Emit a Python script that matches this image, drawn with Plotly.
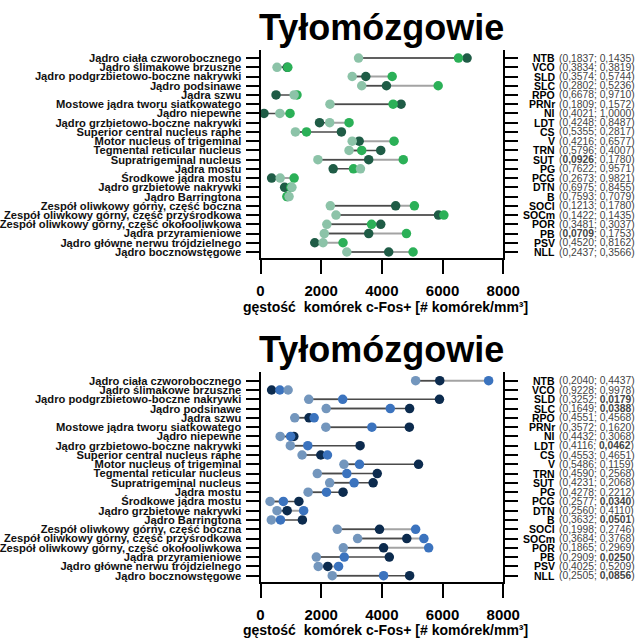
import plotly.graph_objects as go

W, H = 643, 641

regions = [
    "Jądro ciała czworobocznego",
    "Jądro ślimakowe brzuszne",
    "Jądro podgrzbietowo-boczne nakrywki",
    "Jądro podsinawe",
    "Jądra szwu",
    "Mostowe jądra tworu siatkowatego",
    "Jądro niepewne",
    "Jądro grzbietowo-boczne nakrywki",
    "Superior central nucleus raphe",
    "Motor nucleus of trigeminal",
    "Tegmental reticular nucleus",
    "Supratrigeminal nucleus",
    "Jądra mostu",
    "Środkowe jądra mostu",
    "Jądro grzbietowe nakrywki",
    "Jądro Barringtona",
    "Zespół oliwkowy górny, część boczna",
    "Zespół oliwkowy górny, część przyśrodkowa",
    "Zespół oliwkowy górny, część okołooliwkowa",
    "Jądra przyramieniowe",
    "Jądro główne nerwu trójdzielnego",
    "Jądro bocznowstęgowe",
]
abbrevs = ["NTB", "VCO", "SLD", "SLC", "RPO", "PRNr", "NI", "LDT", "CS", "V", "TRN",
           "SUT", "PG", "PCG", "DTN", "B", "SOCl", "SOCm", "POR", "PB", "PSV", "NLL"]

# top panel (green)
top_light = [3231, 544, 3022, 3336, 1108, 2290, 638, 2280, 1150, 3022, 2918,
             1892, 3294, 648, 1035, 941, 2301, 2489, 2186, 2102, 2061, 2845]
top_dark = [6808, 880, 3471, 4151, 512, 4632, 115, 1945, 2667, 3252, 3963,
            3566, 2395, 366, 795, 900, 4455, 5866, 3963, 3566, 1788, 4225]
top_bright = [6525, 900, 4340, 5856, 1202, 4371, 973, 2918, 1516, 4402, 3336,
              4706, 3064, 1108, 1000, 868, 5072, 6044, 3660, 4810, 2720, 5029]
top_p1 = [0.1837, 0.3834, 0.3574, 0.2802, 0.6678, 0.1809, 0.4021, 0.4248, 0.5355, 0.4216, 0.5796,
          0.0926, 0.7622, 0.2673, 0.6975, 0.7593, 0.1213, 0.1422, 0.3481, 0.0709, 0.4520, 0.2437]
top_p2 = [0.1435, 0.3819, 0.5744, 0.5236, 0.9710, 0.1572, 1.0000, 0.8487, 0.2817, 0.6577, 0.4007,
          0.1780, 0.9571, 0.9821, 0.8455, 0.7079, 0.1780, 0.1435, 0.3037, 0.1753, 0.8162, 0.3566]

# bottom panel (blue)
bot_light = [5113, 910, 1590, 2165, 1129, 2154, 648, 983, 1370, 2750, 1872,
             2280, 1568, 314, 544, 356, 2531, 3200, 2729, 1840, 1903, 2364]
bot_dark = [5908, 366, 5898, 4915, 1600, 4905, 1098, 3283, 1987, 5208, 3848,
            3712, 2720, 1265, 878, 1380, 3922, 4821, 4057, 4245, 2217, 4915]
bot_bright = [7519, 638, 2709, 4277, 1767, 3671, 993, 1558, 2207, 3263, 2845,
              3085, 2175, 753, 1422, 659, 5113, 5386, 5543, 2761, 2573, 4057]
bot_p1 = [0.2040, 0.9228, 0.3252, 0.1649, 0.4551, 0.3572, 0.4432, 0.4116, 0.4553, 0.5486, 0.4590,
          0.4231, 0.4278, 0.2577, 0.2560, 0.3632, 0.1998, 0.3684, 0.1865, 0.2909, 0.4025, 0.2505]
bot_p2 = [0.4437, 0.9978, 0.0179, 0.0388, 0.4568, 0.1620, 0.3068, 0.0462, 0.4651, 0.1159, 0.2568,
          0.2068, 0.2212, 0.0340, 0.4110, 0.0501, 0.2746, 0.3768, 0.2969, 0.0250, 0.5209, 0.0856]

xticks = [0, 2000, 4000, 6000, 8000]
rows = list(range(len(regions)))

GREENS = ("#8cc3a8", "#1f5c46", "#2bb057")
BLUES = ("#7396bd", "#0c2b4e", "#3b73be")

FONT = "Liberation Sans, Arial, sans-serif"


def px_y(p):
    return 1 - p / H


def fmt(p):
    s = "{:.4f}".format(p).replace(".", ",")
    return "<b>" + s + "</b>" if p < 0.1 else s


def seg(a, b):
    xs, ys = [], []
    for i in rows:
        xs += [a[i], b[i], None]
        ys += [i, i, None]
    return xs, ys


fig = go.Figure()

panels = [
    ("x", "y", top_light, top_dark, top_bright, GREENS),
    ("x2", "y2", bot_light, bot_dark, bot_bright, BLUES),
]
for xa, ya, light, dark, bright, cols in panels:
    xs, ys = seg(light, bright)
    fig.add_trace(go.Scatter(x=xs, y=ys, xaxis=xa, yaxis=ya, mode="lines",
                             line=dict(color="#a3a3a3", width=2), showlegend=False))
    xs, ys = seg(light, dark)
    fig.add_trace(go.Scatter(x=xs, y=ys, xaxis=xa, yaxis=ya, mode="lines",
                             line=dict(color="#4a4a4a", width=1.5), showlegend=False))
    for vals, c in ((dark, cols[1]), (bright, cols[2]), (light, cols[0])):
        fig.add_trace(go.Scatter(x=vals, y=rows, xaxis=xa, yaxis=ya, mode="markers",
                                 marker=dict(color=c, size=9.5, line=dict(width=0)),
                                 showlegend=False))

xdom = [259 / W, 514 / W]
xcommon = dict(range=[0, 8000], tickvals=xticks, ticks="outside", ticklen=14, tickwidth=2,
               showline=True, linewidth=2, linecolor="black", tickcolor="black",
               showgrid=False, zeroline=False, domain=xdom,
               tickfont=dict(family=FONT, size=15, color="black", weight="bold"),
               ticklabelstandoff=4)
ycommon = dict(tickvals=rows, ticktext=regions, ticks="outside", ticklen=13, tickwidth=2,
               showline=True, linewidth=2, linecolor="black", tickcolor="black", mirror="ticks",
               showgrid=False, zeroline=False,
               tickfont=dict(family=FONT, size=11.2, color="#111", weight="bold"),
               ticklabelstandoff=2)

fig.update_layout(
    width=W, height=H,
    margin=dict(l=0, r=0, t=0, b=0),
    paper_bgcolor="white", plot_bgcolor="white",
    xaxis=dict(anchor="y", **xcommon),
    xaxis2=dict(anchor="y2", **xcommon),
    yaxis=dict(anchor="x", domain=[px_y(258), px_y(50)], range=[21.65, -0.87], **ycommon),
    yaxis2=dict(anchor="x2", domain=[px_y(582), px_y(372)], range=[21.68, -0.94], **ycommon),
)

ann = []
for yref, ty, xt, p1, p2 in (("y", 27.5, 307, top_p1, top_p2), ("y2", 349.5, 630, bot_p1, bot_p2)):
    ann.append(dict(text="Tyłomózgowie", x=386 / W, y=px_y(ty), xref="paper", yref="paper",
                    showarrow=False, xanchor="center", yanchor="middle",
                    font=dict(family=FONT, size=36, color="black", weight="bold")))
    ann.append(dict(text="gęstość  komórek c-Fos+ [# komórek/mm³]", x=390 / W, y=px_y(xt),
                    xref="paper", yref="paper", showarrow=False, xanchor="center", yanchor="middle",
                    font=dict(family=FONT, size=14, color="black", weight="bold")))
    for i in rows:
        ann.append(dict(text="<b>" + abbrevs[i] + "</b>", x=570 / W, y=i, xref="paper", yref=yref,
                        showarrow=False, xanchor="right", yanchor="middle",
                        font=dict(family=FONT, size=10.5, color="black")))
        ann.append(dict(text="(" + fmt(p1[i]) + "; " + fmt(p2[i]) + ")", x=571 / W, y=i,
                        xref="paper", yref=yref, showarrow=False, xanchor="left", yanchor="middle",
                        font=dict(family=FONT, size=10.3, color="#444")))
fig.update_layout(annotations=ann)

# drop the default page margin and hide the hover toolbar once the plot is drawn
post = (
    "document.body.style.margin='0';"
    "document.querySelectorAll('.modebar-container').forEach(function(e){e.style.display='none';});"
)
fig.write_html("out.html", post_script=post)
